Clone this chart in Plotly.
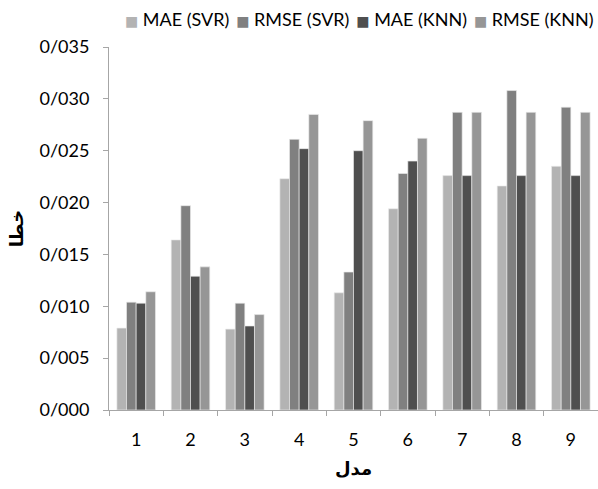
import plotly.graph_objects as go

models = ["1", "2", "3", "4", "5", "6", "7", "8", "9"]
mae_svr = [0.0079, 0.0164, 0.0078, 0.0223, 0.0113, 0.0194, 0.0226, 0.0216, 0.0235]
rmse_svr = [0.0104, 0.0197, 0.0103, 0.0261, 0.0133, 0.0228, 0.0287, 0.0308, 0.0292]
mae_knn = [0.0103, 0.0129, 0.0081, 0.0252, 0.0250, 0.0240, 0.0226, 0.0226, 0.0226]
rmse_knn = [0.0114, 0.0138, 0.0092, 0.0285, 0.0279, 0.0262, 0.0287, 0.0287, 0.0287]
series_names = ["MAE (SVR)", "RMSE (SVR)", "MAE (KNN)", "RMSE (KNN)"]
colors = ["#b3b3b3", "#808080", "#4f4f4f", "#969696"]
y_tickvals = [0, 0.005, 0.010, 0.015, 0.020, 0.025, 0.030, 0.035]
y_ticktext = ["0/000", "0/005", "0/010", "0/015", "0/020", "0/025", "0/030", "0/035"]

FONT = "Lato, 'DejaVu Sans', sans-serif"

fig = go.Figure()
for name, vals, col in zip(series_names, [mae_svr, rmse_svr, mae_knn, rmse_knn], colors):
    fig.add_trace(go.Bar(
        x=models, y=vals, name=name,
        marker=dict(color=col, line=dict(color="rgba(235,235,235,0.8)", width=0.8)),
    ))

# legend drawn as a single line of text (coloured squares + labels)
legend_parts = []
for name, col in zip(series_names, colors):
    legend_parts.append(
        f"<span style='font-size:14px;color:{col}'>\u25A0</span>\u00a0{name}"
    )
legend_text = "\u00a0\u2009".join(legend_parts)

fig.update_layout(
    width=598, height=489,
    margin=dict(l=109, r=0, t=47, b=79),
    paper_bgcolor="white", plot_bgcolor="white",
    barmode="group", bargap=0.29, bargroupgap=0,
    showlegend=False,
    font=dict(family=FONT, size=18, color="#000000"),
    annotations=[dict(
        text=legend_text, xref="paper", yref="paper",
        x=1.0, xanchor="right", xshift=-2,
        y=1.077, yanchor="middle",
        showarrow=False, font=dict(family=FONT, size=18, color="#000000"),
    )],
    xaxis=dict(
        type="category", tickson="boundaries",
        showline=True, linecolor="#a6a6a6", linewidth=1,
        ticks="outside", ticklen=5, tickcolor="#a6a6a6",
        showgrid=False, ticklabelstandoff=13,
        tickfont=dict(family=FONT, size=18),
        title=dict(text="<b>مدل</b>", font=dict(family=FONT, size=18), standoff=13),
    ),
    yaxis=dict(
        range=[0, 0.035], tickvals=y_tickvals, ticktext=y_ticktext,
        showline=True, linecolor="#a6a6a6", linewidth=1,
        ticks="outside", ticklen=5, tickcolor="#a6a6a6",
        showgrid=False, zeroline=False, ticklabelstandoff=10,
        tickfont=dict(family=FONT, size=18),
        title=dict(text="<b>خطا</b>", font=dict(family=FONT, size=18), standoff=11),
    ),
)

fig.write_html("out.html")
